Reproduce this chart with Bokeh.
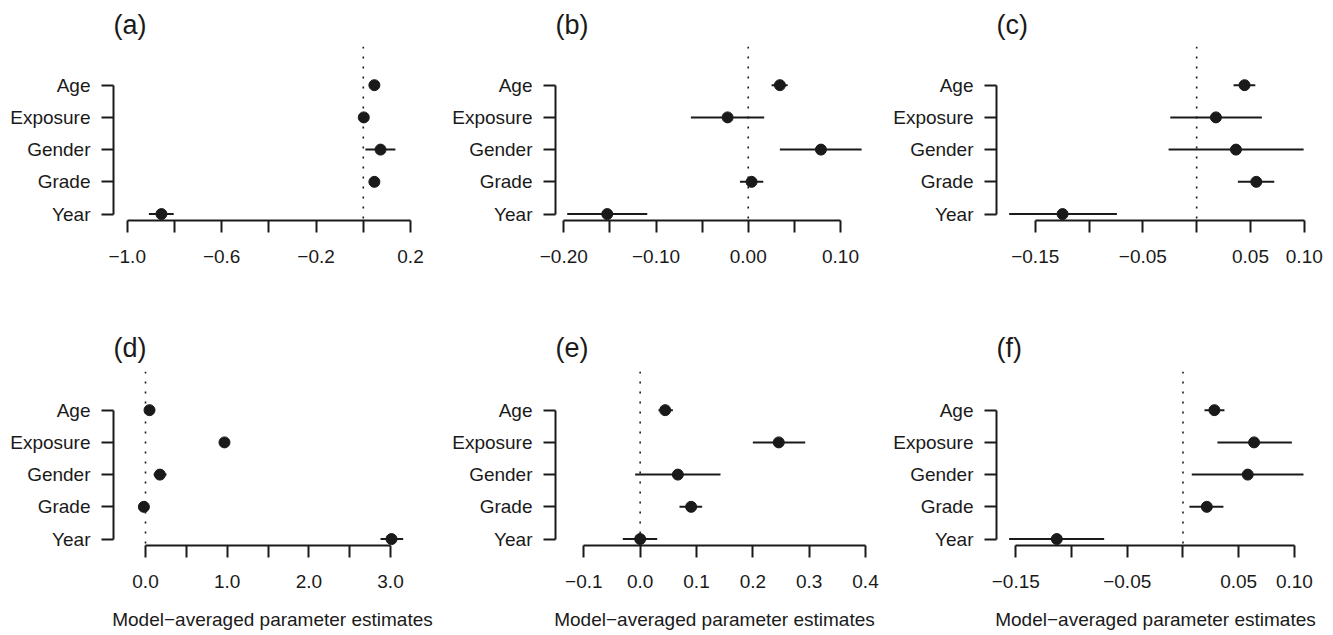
from bokeh.plotting import figure
from bokeh.layouts import gridplot
from bokeh.models import Range1d, FixedTicker, Span, ColumnDataSource
from bokeh.embed import file_html
from bokeh.resources import INLINE

variables = ["Age", "Exposure", "Gender", "Grade", "Year"]
y_pos = [5, 4, 3, 2, 1]

panel_names = ["(a)", "(b)", "(c)", "(d)", "(e)", "(f)"]

est_a = [0.047, 0.002, 0.073, 0.047, -0.855]
lo_a = [0.037, -0.006, 0.009, 0.037, -0.908]
hi_a = [0.057, 0.010, 0.136, 0.057, -0.803]

est_b = [0.0343, -0.0224, 0.0788, 0.0036, -0.1529]
lo_b = [0.0253, -0.0622, 0.0343, -0.0090, -0.1963]
hi_b = [0.0427, 0.0173, 0.1229, 0.0163, -0.1095]

est_c = [0.0445, 0.0179, 0.0365, 0.0554, -0.1246]
lo_c = [0.0343, -0.0245, -0.0261, 0.0383, -0.1742]
hi_c = [0.0545, 0.0606, 0.0994, 0.0721, -0.0741]

est_d = [0.049, 0.967, 0.176, -0.020, 3.012]
lo_d = [0.020, 0.940, 0.100, -0.050, 2.878]
hi_d = [0.080, 0.990, 0.257, 0.010, 3.155]

est_e = [0.0444, 0.246, 0.0669, 0.0905, 0.0]
lo_e = [0.0325, 0.200, -0.0089, 0.0698, -0.0308]
hi_e = [0.0580, 0.293, 0.1426, 0.1100, 0.0302]

est_f = [0.0282, 0.0638, 0.0581, 0.0214, -0.1132]
lo_f = [0.0193, 0.0309, 0.0079, 0.0058, -0.1560]
hi_f = [0.0372, 0.0977, 0.1081, 0.0363, -0.0707]

ticks_a = [-1.0, -0.8, -0.6, -0.4, -0.2, 0.0, 0.2]
tlab_a = ["\u22121.0", "", "\u22120.6", "", "\u22120.2", "", "0.2"]
ticks_b = [-0.20, -0.15, -0.10, -0.05, 0.00, 0.05, 0.10]
tlab_b = ["\u22120.20", "", "\u22120.10", "", "0.00", "", "0.10"]
ticks_c = [-0.15, -0.10, -0.05, 0.00, 0.05, 0.10]
tlab_c = ["\u22120.15", "", "\u22120.05", "", "0.05", "0.10"]
ticks_d = [0.0, 0.5, 1.0, 1.5, 2.0, 2.5, 3.0]
tlab_d = ["0.0", "", "1.0", "", "2.0", "", "3.0"]
ticks_e = [-0.1, 0.0, 0.1, 0.2, 0.3, 0.4]
tlab_e = ["\u22120.1", "0.0", "0.1", "0.2", "0.3", "0.4"]
ticks_f = [-0.15, -0.10, -0.05, 0.00, 0.05, 0.10]
tlab_f = ["\u22120.15", "", "\u22120.05", "", "0.05", "0.10"]

xlims = [(-1.058, 0.2889), (-0.209, 0.1358), (-0.186, 0.1095),
         (-0.392, 3.502), (-0.1503, 0.4142), (-0.1673, 0.118)]

x_title = "Model\u2212averaged parameter estimates"

FONT = "Liberation Sans"
INK = "#1a1a1a"

data = [(est_a, lo_a, hi_a, ticks_a, tlab_a), (est_b, lo_b, hi_b, ticks_b, tlab_b),
        (est_c, lo_c, hi_c, ticks_c, tlab_c), (est_d, lo_d, hi_d, ticks_d, tlab_d),
        (est_e, lo_e, hi_e, ticks_e, tlab_e), (est_f, lo_f, hi_f, ticks_f, tlab_f)]

col_w = [444, 444, 441]
col_left = [113, 111, 108]
row_h = [308, 325]
row_top = [46, 63]
FRAME_W = 318
FRAME_H = 174

figs = []
for i, (est, lo, hi, ticks, tlab) in enumerate(data):
    r, c = divmod(i, 3)
    p = figure(width=col_w[c], height=row_h[r], output_backend="svg", toolbar_location=None,
               x_range=Range1d(*xlims[i]), y_range=Range1d(0.8, 6.2),
               min_border_left=col_left[c], min_border_right=col_w[c] - col_left[c] - FRAME_W,
               min_border_top=row_top[r], min_border_bottom=row_h[r] - row_top[r] - FRAME_H,
               background_fill_color="white", border_fill_color="white")
    p.outline_line_color = None
    p.grid.visible = False

    p.title.text = panel_names[i]
    p.title.align = "left"
    p.title.text_font = FONT
    p.title.text_font_size = "27px"
    p.title.text_font_style = "normal"
    p.title.text_color = INK
    p.title.offset = 0
    p.title.standoff = 13 if r == 0 else 18

    src = ColumnDataSource(dict(y=y_pos, est=est, lo=lo, hi=hi))
    p.add_layout(Span(location=0, dimension="height", line_color=INK, line_width=1.6,
                      line_dash="2 8"))
    p.segment(x0="lo", x1="hi", y0="y", y1="y", source=src, line_color=INK, line_width=2)
    p.scatter(x="est", y="y", source=src, size=11, marker="circle",
              fill_color=INK, line_color=INK)

    for ax in (p.xaxis[0], p.yaxis[0]):
        ax.axis_line_color = INK
        ax.axis_line_width = 2
        ax.major_tick_line_color = INK
        ax.major_tick_line_width = 2
        ax.major_tick_out = 12
        ax.major_tick_in = 0
        ax.minor_tick_out = 0
        ax.minor_tick_in = 0
        ax.major_label_text_font = FONT
        ax.major_label_text_font_size = "19px"
        ax.major_label_text_color = INK

    xa = p.xaxis[0]
    xa.ticker = FixedTicker(ticks=ticks)
    xa.major_label_overrides = dict(zip(ticks, tlab))
    xa.bounds = (ticks[0], ticks[-1])
    xa.major_label_standoff = 17
    if r == 1:
        xa.axis_label = x_title
        xa.axis_label_text_font = FONT
        xa.axis_label_text_font_size = "19px"
        xa.axis_label_text_font_style = "normal"
        xa.axis_label_text_color = INK
        xa.axis_label_standoff = 18

    ya = p.yaxis[0]
    ya.ticker = FixedTicker(ticks=y_pos)
    ya.major_label_overrides = dict(zip(y_pos, variables))
    ya.bounds = (1, 5)
    ya.major_label_standoff = 11

    figs.append(p)

grid = gridplot([figs[0:3], figs[3:6]], toolbar_location=None)
open("out.html", "w").write(file_html(grid, INLINE))
